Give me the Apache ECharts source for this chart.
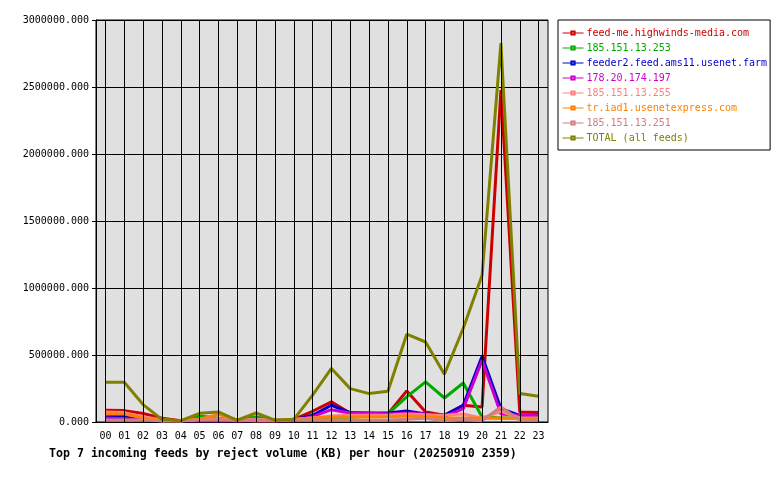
<!DOCTYPE html>
<html>
<head>
<meta charset="utf-8">
<script src="https://cdn.jsdelivr.net/npm/echarts@6/dist/echarts.min.js"></script>
<style>
  body { margin: 0; background: #fff; }
  #chart { width: 780px; height: 480px; }
</style>
</head>
<body>
<div id="chart"></div>
<script>
var hours = ['00','01','02','03','04','05','06','07','08','09','10','11','12','13','14','15','16','17','18','19','20','21','22','23'];

var feedNames = ['feed-me.highwinds-media.com', '185.151.13.253', 'feeder2.feed.ams11.usenet.farm',
  '178.20.174.197', '185.151.13.255', 'tr.iad1.usenetexpress.com', '185.151.13.251', 'TOTAL (all feeds)'];
var feedColors = ['#cc0000', '#00aa00', '#0000cc', '#cc00cc', '#ff8080', '#ff8000', '#cc8080', '#808000'];

// reject volume per hour (KB)
var highwinds = [87000, 85000, 63000, 28000, 10000, 15000, 15000, 10000, 15000, 10000, 20000, 80000, 150000, 65000, 60000, 60000, 232000, 75000, 50000, 125000, 112000, 2477000, 75000, 70000];
var ip253 = [55000, 55000, 30000, 10000, 10000, 45000, 28000, 15000, 37000, 15000, 15000, 25000, 37000, 35000, 45000, 60000, 187000, 299000, 179000, 291000, 37000, 30000, 30000, 30000];
var ams11 = [45000, 45000, 20000, 10000, 10000, 15000, 15000, 10000, 15000, 10000, 15000, 50000, 125000, 70000, 67000, 67000, 82000, 60000, 50000, 125000, 490000, 100000, 50000, 50000];
var ip197 = [30000, 25000, 13000, 10000, 10000, 10000, 10000, 10000, 10000, 10000, 10000, 40000, 92000, 67000, 67000, 60000, 65000, 60000, 40000, 100000, 460000, 60000, 50000, 50000];
var ip255 = [75000, 70000, 40000, 15000, 10000, 20000, 25000, 15000, 20000, 15000, 20000, 30000, 45000, 50000, 50000, 50000, 60000, 55000, 50000, 60000, 28000, 80000, 30000, 30000];
var usenetexpress = [60000, 60000, 30000, 10000, 10000, 20000, 57000, 15000, 10000, 10000, 20000, 30000, 37000, 37000, 37000, 40000, 45000, 40000, 30000, 30000, 28000, 30000, 25000, 25000];
var ip251 = [15000, 15000, 15000, 10000, 10000, 15000, 15000, 13000, 15000, 13000, 15000, 15000, 13000, 13000, 13000, 15000, 20000, 28000, 10000, 20000, 10000, 112000, 15000, 13000];
var total = [296000, 296000, 130000, 20000, 10000, 65000, 75000, 13000, 67000, 13000, 20000, 200000, 400000, 249000, 212000, 229000, 655000, 597000, 356000, 700000, 1095000, 2828000, 212000, 192000];

var feedData = [highwinds, ip253, ams11, ip197, ip255, usenetexpress, ip251, total];

var font = 'DejaVu Sans Mono';
var myChart = echarts.init(document.getElementById('chart'));

var series = [{
  // vertical grid lines at each hour
  name: 'grid',
  type: 'line',
  data: [],
  z: 1,
  silent: true,
  markLine: {
    silent: true,
    symbol: 'none',
    animation: false,
    label: { show: false },
    lineStyle: { color: '#000', width: 1, type: 'solid' },
    data: hours.map(function (h) { return { xAxis: h }; })
  }
}];
for (var i = 0; i < feedNames.length; i++) {
  series.push({
    name: feedNames[i],
    type: 'line',
    data: feedData[i],
    z: 3,
    showSymbol: false,
    symbol: 'emptyRect',
    symbolSize: 4,
    color: feedColors[i],
    lineStyle: { width: 3, color: feedColors[i] },
    animation: false
  });
}

myChart.setOption({
  animation: false,
  title: {
    text: 'Top 7 incoming feeds by reject volume (KB) per hour (20250910 2359)',
    left: 44,
    top: 443,
    textStyle: { fontFamily: font, fontSize: 11.6, fontWeight: 'bold', color: '#000' }
  },
  legend: {
    orient: 'vertical',
    left: 558,
    top: 20,
    padding: [7, 3, 6, 4],
    itemGap: 3,
    itemWidth: 21,
    itemHeight: 4,
    borderColor: '#000',
    borderWidth: 1,
    selectedMode: false,
    lineStyle: { width: 1 },
    textStyle: { fontFamily: font, fontSize: 10, lineHeight: 12, padding: [0, 0, 0, -2] },
    data: feedNames.map(function (n, k) {
      return { name: n, textStyle: { color: feedColors[k] } };
    })
  },
  grid: {
    left: 96,
    right: 232,
    top: 20,
    bottom: 58,
    show: true,
    backgroundColor: '#e0e0e0',
    borderColor: '#000',
    borderWidth: 1
  },
  xAxis: {
    type: 'category',
    data: hours,
    boundaryGap: true,
    axisLine: { lineStyle: { color: '#000' } },
    axisTick: { show: false },
    splitLine: { show: false },
    axisLabel: { color: '#000', fontFamily: font, fontSize: 10, margin: 9, interval: 0 }
  },
  yAxis: {
    type: 'value',
    min: 0,
    max: 3000000,
    interval: 500000,
    axisLine: { show: true, lineStyle: { color: '#000' } },
    axisTick: { show: true, length: 4, lineStyle: { color: '#000' } },
    splitLine: { show: true, lineStyle: { color: '#000', width: 1 } },
    axisLabel: {
      color: '#000', fontFamily: font, fontSize: 10, margin: 7,
      formatter: function (v) { return v.toFixed(3); }
    }
  },
  series: series
});
</script>
</body>
</html>
